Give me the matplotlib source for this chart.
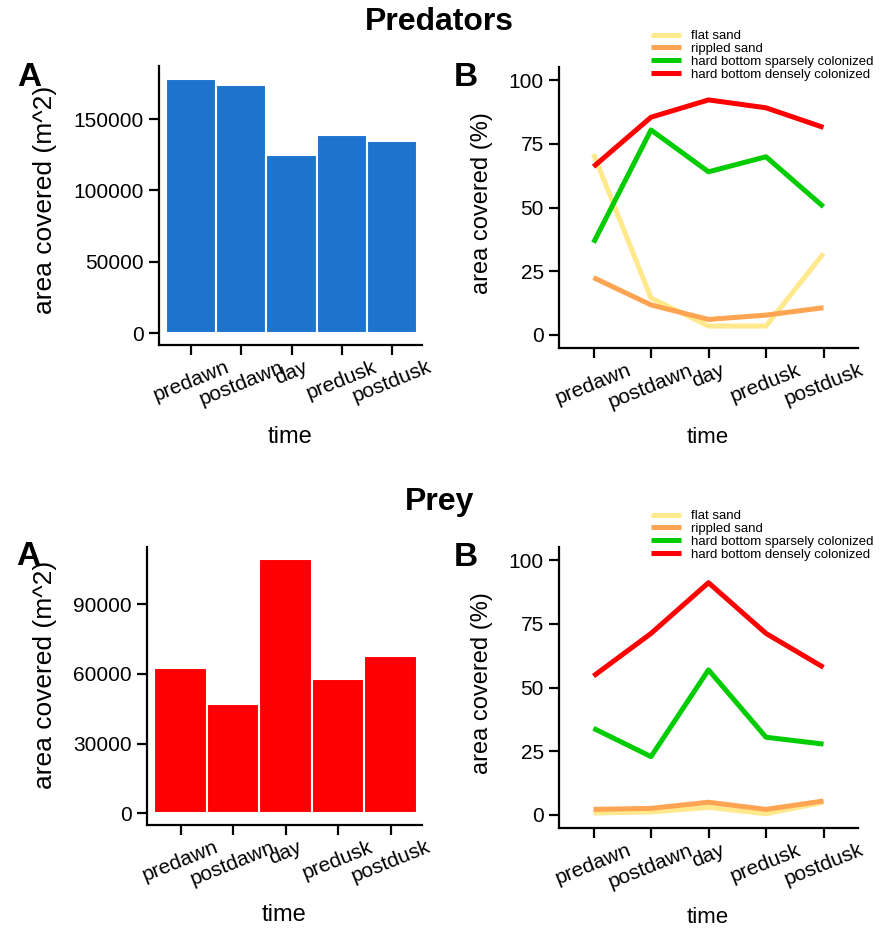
import matplotlib
matplotlib.use("Agg")
import matplotlib.pyplot as plt

plt.rcParams['font.family'] = ['Liberation Sans', 'DejaVu Sans']

### data
times = ["predawn", "postdawn", "day", "predusk", "postdusk"]
habitats = ["flat sand", "rippled sand", "hard bottom sparsely colonized", "hard bottom densely colonized"]
hab_colors = ["#FFE98C", "#FFA452", "#00CC00", "#FF0000"]

pred_area = [178000, 174000, 124800, 138600, 134900]
pred_flat = [71, 14.5, 3.5, 3.5, 32]
pred_rippled = [22.5, 11.8, 6.1, 7.8, 10.7]
pred_sparse = [36.2, 80.4, 64, 69.9, 50.3]
pred_dense = [66, 85.4, 92.2, 89.1, 81.4]

prey_area = [62700, 47000, 109400, 57700, 67800]
prey_flat = [0.8, 1.2, 3, 0.5, 5]
prey_rippled = [2.2, 2.6, 5, 2.2, 5.5]
prey_sparse = [34, 22.9, 56.9, 30.5, 27.8]
prey_dense = [54.5, 71.2, 91.1, 71.2, 57.9]

W, H = 881, 930
fig = plt.figure(figsize=(W/100, H/100), dpi=100)

def box(l, t, r, b):
	return [l/W, 1-b/H, (r-l)/W, (b-t)/H]

def style(ax):
	for s in ["top", "right"]:
		ax.spines[s].set_visible(False)
	for s in ["left", "bottom"]:
		ax.spines[s].set_linewidth(1.6)
	ax.tick_params(length=7, width=1.6, labelsize=15, pad=4)
	ax.tick_params(axis="x", pad=2)
	ax.set_xticks(range(5))
	ax.set_xticklabels(times, rotation=22)

def ftext(x, y, s, **kw):
	fig.text(x/W, 1-y/H, s, ha="center", va="center", **kw)

def bar_panel(rect, vals, color, yticks, ylim):
	ax = fig.add_axes(box(*rect))
	ax.bar(range(5), vals, width=1, color=color, edgecolor="white", linewidth=1.5)
	style(ax)
	ax.set_xlim(-0.64, 4.6)
	ax.set_ylim(*ylim)
	ax.set_yticks(yticks)
	return ax

def line_panel(rect, series, yoff):
	ax = fig.add_axes(box(*rect))
	for vals, lab, c in zip(series, habitats, hab_colors):
		ax.plot(range(5), vals, color=c, lw=3.6, label=lab, solid_capstyle="butt")
	style(ax)
	ax.set_xlim(-0.6, 4.6)
	ax.set_ylim(-5.1, 105.1)
	ax.set_yticks([0, 25, 50, 75, 100])
	ax.legend(loc="upper left", bbox_to_anchor=(651/W, 1-(yoff+30)/H), bbox_transform=fig.transFigure,
		frameon=False, fontsize=9.5, handlelength=2.3, handletextpad=0.75, labelspacing=0.04, borderpad=0, borderaxespad=0)
	return ax

### predators
bar_panel((159, 66, 422, 345), pred_area, "#1C74CC", [0, 50000, 100000, 150000], (-8400, 187200))
line_panel((559, 67, 858, 348), [pred_flat, pred_rippled, pred_sparse, pred_dense], 0)

### prey
bar_panel((147, 547, 422, 825), prey_area, "#FF0000", [0, 30000, 60000, 90000], (-5030, 114600))
line_panel((559, 547, 858, 828), [prey_flat, prey_rippled, prey_sparse, prey_dense], 480)

### text
ftext(439, 22, "Predators", fontsize=23, fontweight="bold")
ftext(440, 502, "Prey", fontsize=23, fontweight="bold")
for x, y, s in [(29, 77, "A"), (466, 78, "B"), (28, 556, "A"), (466, 558, "B")]:
	ftext(x, y, s, fontsize=24, fontweight="bold")
ftext(45, 200, "area covered (m^2)", fontsize=19, rotation=90)
ftext(45, 675, "area covered (m^2)", fontsize=19, rotation=90)
ftext(482, 203, "area covered (%)", fontsize=17, rotation=90)
ftext(482, 683, "area covered (%)", fontsize=17, rotation=90)
ftext(290, 437, "time", fontsize=17)
ftext(284, 915, "time", fontsize=17)
ftext(708, 437, "time", fontsize=16)
ftext(708, 917, "time", fontsize=16)

plt.savefig("out.png", dpi=100)
